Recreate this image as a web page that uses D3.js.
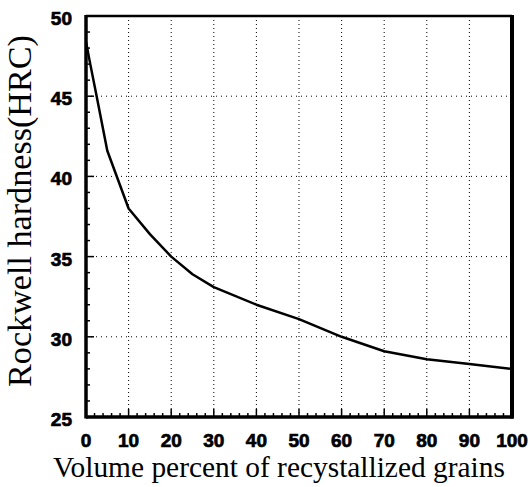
<!DOCTYPE html>
<html>
<head>
<meta charset="utf-8">
<script src="https://cdn.jsdelivr.net/npm/d3@7"></script>
<style>
  body { margin: 0; background: #fff; }
  svg { display: block; }
  .tick-label { font-family: "Liberation Sans", Arial, sans-serif; font-weight: bold; font-size: 19px; stroke: #000; stroke-width: 0.7px; }
  .title { font-family: "Liberation Serif", "Times New Roman", serif; }
</style>
</head>
<body>
<svg id="chart"></svg>
<script>
// values
var volume = [0, 1, 2.5, 5, 10, 15, 20, 25, 30, 40, 50, 60, 70, 80, 90, 100]
var hardness = [48.4, 47, 45, 41.6, 38, 36.4, 35, 33.9, 33.1, 32, 31.1, 30, 29.1, 28.6, 28.3, 28]
var xTicks = [0, 10, 20, 30, 40, 50, 60, 70, 80, 90, 100]
var yTicks = [25, 30, 35, 40, 45, 50]

var W = 530, H = 487
var margin = {left: 86, top: 16, right: 18, bottom: 70}
var width = W - margin.left - margin.right
var height = H - margin.top - margin.bottom

var svg = d3.select('#chart').attr('width', W).attr('height', H)
var g = svg.append('g').attr('transform', `translate(${margin.left},${margin.top})`)

var x = d3.scaleLinear().domain([0, 100]).range([0, width])
var y = d3.scaleLinear().domain([25, 50]).range([height, 0])

// dotted grid
g.append('g').selectAll('line')
  .data(xTicks.slice(1, -1))
  .join('line')
  .attr('x1', d => x(d)).attr('x2', d => x(d))
  .attr('y1', 0).attr('y2', height)
  .attr('stroke', '#000').attr('stroke-width', 1)
  .attr('stroke-dasharray', '1,3')

g.append('g').selectAll('line')
  .data(yTicks.slice(1, -1))
  .join('line')
  .attr('y1', d => y(d)).attr('y2', d => y(d))
  .attr('x1', 0).attr('x2', width)
  .attr('stroke', '#000').attr('stroke-width', 1)
  .attr('stroke-dasharray', '1,4')

// minor ticks, inward
g.append('g').selectAll('line')
  .data(d3.range(0, 101, 2))
  .join('line')
  .attr('x1', d => x(d)).attr('x2', d => x(d))
  .attr('y1', height).attr('y2', d => height - (d % 10 == 0 ? 8 : 4))
  .attr('stroke', '#000').attr('stroke-width', 1.5)

g.append('g').selectAll('line')
  .data(d3.range(25, 51, 1))
  .join('line')
  .attr('y1', d => y(d)).attr('y2', d => y(d))
  .attr('x1', 0).attr('x2', d => (d % 5 == 0 ? 8 : 4))
  .attr('stroke', '#000').attr('stroke-width', 1.5)

// frame
g.append('line').attr('x1', 0).attr('x2', width).attr('y1', 0).attr('y2', 0)
  .attr('stroke', '#000').attr('stroke-width', 2.5)
g.append('line').attr('x1', 0).attr('x2', 0).attr('y1', -1).attr('y2', height + 1.5)
  .attr('stroke', '#000').attr('stroke-width', 3.5)
g.append('line').attr('x1', 0).attr('x2', width + 1.5).attr('y1', height).attr('y2', height)
  .attr('stroke', '#000').attr('stroke-width', 3.5)
g.append('line').attr('x1', width).attr('x2', width).attr('y1', -1).attr('y2', height + 1.5)
  .attr('stroke', '#000').attr('stroke-width', 4)

// curve
var pts = volume.map((v, i) => [v, hardness[i]])
g.append('path')
  .datum(pts)
  .attr('fill', 'none')
  .attr('stroke', '#000')
  .attr('stroke-width', 2.5)
  .attr('stroke-linejoin', 'round')
  .attr('d', d3.line().x(d => x(d[0])).y(d => y(d[1])))

// tick labels
g.append('g').selectAll('text')
  .data(xTicks)
  .join('text')
  .attr('class', 'tick-label')
  .attr('x', d => x(d))
  .attr('y', height + 30)
  .attr('text-anchor', 'middle')
  .text(d => d)

g.append('g').selectAll('text')
  .data(yTicks)
  .join('text')
  .attr('class', 'tick-label')
  .attr('x', -14)
  .attr('y', d => y(d) + 9)
  .attr('text-anchor', 'end')
  .text(d => d)

// titles, sized to the span they take in the picture
function fit(sel, target){
  var len = sel.node().getComputedTextLength()
  sel.style('font-size', (24 * target / len) + 'px')
}

var xt = svg.append('text')
  .attr('class', 'title')
  .attr('x', 279)
  .attr('y', 477)
  .attr('text-anchor', 'middle')
  .style('font-size', '24px')
  .text('Volume percent of recystallized grains')
fit(xt, 452)

var yt = svg.append('text')
  .attr('class', 'title')
  .attr('transform', 'translate(31,211) rotate(-90)')
  .attr('text-anchor', 'middle')
  .style('font-size', '24px')
  .text('Rockwell hardness(HRC)')
fit(yt, 352)
</script>
</body>
</html>
